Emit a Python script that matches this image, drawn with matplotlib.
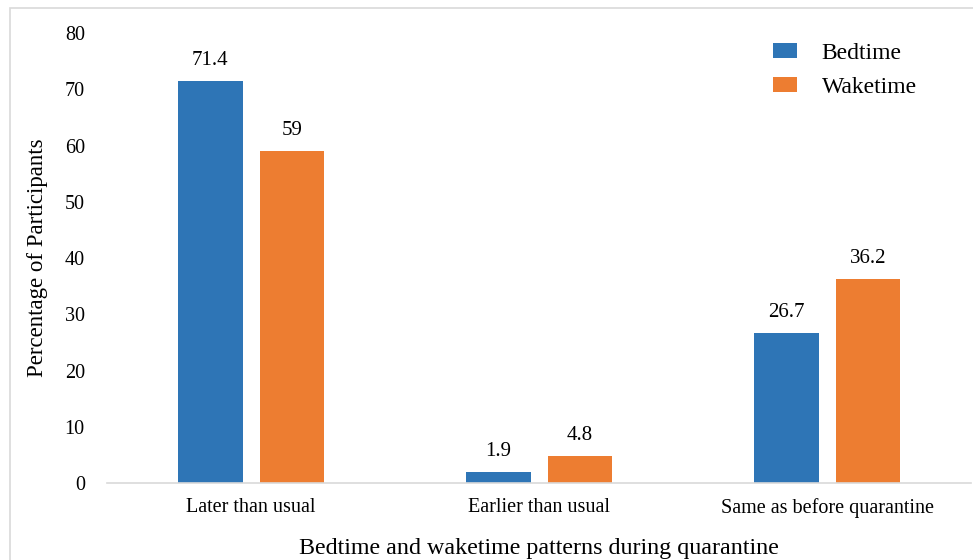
import numpy as np
import matplotlib.pyplot as plt
from matplotlib.patches import Rectangle

# Data
categories = ["Later than usual", "Earlier than usual", "Same as before quarantine"]
bedtime = [71.4, 1.9, 26.7]
waketime = [59, 4.8, 36.2]
bedtime_labels = ["71.4", "1.9", "26.7"]
waketime_labels = ["59", "4.8", "36.2"]

plt.rcParams['font.family'] = ['Liberation Serif', 'DejaVu Serif']

fig = plt.figure(figsize=(9.73, 5.6), dpi=100)
ax = fig.add_axes([0.110, 0.1375, 0.888, 0.8035])

blue = '#2E75B6'
orange = '#ED7D31'
x = np.arange(len(categories))
w = 0.225
off = 0.142

b1 = ax.bar(x - off, bedtime, width=w, color=blue, label='Bedtime')
b2 = ax.bar(x + off, waketime, width=w, color=orange, label='Waketime')

for bars, labs in ((b1, bedtime_labels), (b2, waketime_labels)):
    for bar, lab in zip(bars, labs):
        ax.text(bar.get_x() + bar.get_width() / 2, bar.get_height() + 2.0, lab,
                ha='center', va='bottom', fontsize=15)

ax.set_xlim(-0.5, 2.5)
ax.set_ylim(0, 80)
ax.set_yticks(np.arange(0, 81, 10))
ax.set_xticks(x)
ax.set_xticklabels(categories)
ax.tick_params(axis='both', length=0, labelsize=14.5)
ax.tick_params(axis='y', pad=16)
ax.tick_params(axis='x', pad=11)

for s in ['top', 'right', 'left']:
    ax.spines[s].set_visible(False)
ax.spines['bottom'].set_color('#d9d9d9')
ax.spines['bottom'].set_linewidth(1.2)

ax.set_ylabel('Percentage of Participants', fontsize=16.5, labelpad=12)
ax.set_xlabel('Bedtime and waketime patterns during quarantine', fontsize=17.3, labelpad=14)

ax.legend(loc='upper right', bbox_to_anchor=(0.962, 1.025), frameon=False, fontsize=17,
          handlelength=1.0, handleheight=0.6, handletextpad=1.05, labelspacing=0.55)

# outer chart border
fig.patches.append(Rectangle((10 / 973, -0.05), 1.0, 1 - 8 / 560 + 0.05,
                             transform=fig.transFigure, fill=False,
                             edgecolor='#d9d9d9', linewidth=1.2))

fig.savefig('out.png', dpi=100)
